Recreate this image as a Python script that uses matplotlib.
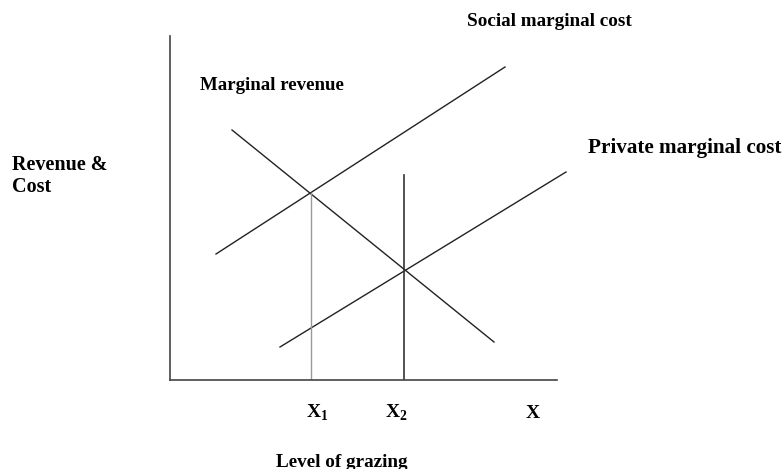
import matplotlib
matplotlib.use("Agg")
import matplotlib.pyplot as plt

plt.rcParams["font.family"] = ["Liberation Serif", "DejaVu Serif"]
plt.rcParams["font.weight"] = "bold"

# curve endpoints (level of grazing, revenue & cost)
mr_x = [6.2, 32.4]
mr_y = [25.0, 3.8]
smc_x = [4.6, 33.5]
smc_y = [12.6, 31.3]
pmc_x = [11.0, 39.6]
pmc_y = [3.3, 20.8]

# optimum (X1) and open-access (X2) grazing levels
x1 = 14.1
x1_top = 18.7
x2 = 23.4
x2_top = 20.5

tick_labels = ["X$_\\mathregular{1}$", "X$_\\mathregular{2}$", "X"]
tick_pos = [14.7, 22.6, 36.3]

W, H = 782, 469
fig = plt.figure(figsize=(W / 100, H / 100), dpi=100)
ax = fig.add_axes([170 / W, (H - 380) / H, (557 - 170) / W, (380 - 36) / H])
ax.set_xlim(0, 38.7)
ax.set_ylim(0, 34.4)

for s in ["top", "right"]:
    ax.spines[s].set_visible(False)
for s in ["left", "bottom"]:
    ax.spines[s].set_color("#444444")
    ax.spines[s].set_linewidth(1.2)
ax.set_xticks([])
ax.set_yticks([])

lw = 1.0
ax.plot(mr_x, mr_y, color="#222222", lw=lw, clip_on=False)
ax.plot(smc_x, smc_y, color="#222222", lw=lw, clip_on=False)
ax.plot(pmc_x, pmc_y, color="#222222", lw=lw, clip_on=False)
ax.plot([x1, x1], [0, x1_top], color="#999999", lw=1.0)
ax.plot([x2, x2], [0, x2_top], color="#333333", lw=1.2)

for lab, xp in zip(tick_labels, tick_pos):
    ax.text(xp, -3.3, lab, ha="center", va="center", fontsize=14, clip_on=False)

fig.text(549 / W, 1 - 22 / H, "Social marginal cost", ha="center", va="center", fontsize=13.8)
fig.text(200 / W, 1 - 86 / H, "Marginal revenue", ha="left", va="center", fontsize=13.6)
fig.text(588 / W, 1 - 148 / H, "Private marginal cost", ha="left", va="center", fontsize=15.2)
fig.text(12 / W, 1 - 176 / H, "Revenue &\nCost", ha="left", va="center", fontsize=14.5,
         linespacing=1.15)
fig.text(342 / W, 1 - 462 / H, "Level of grazing", ha="center", va="center", fontsize=13.8)

fig.savefig("out.png", dpi=100)
